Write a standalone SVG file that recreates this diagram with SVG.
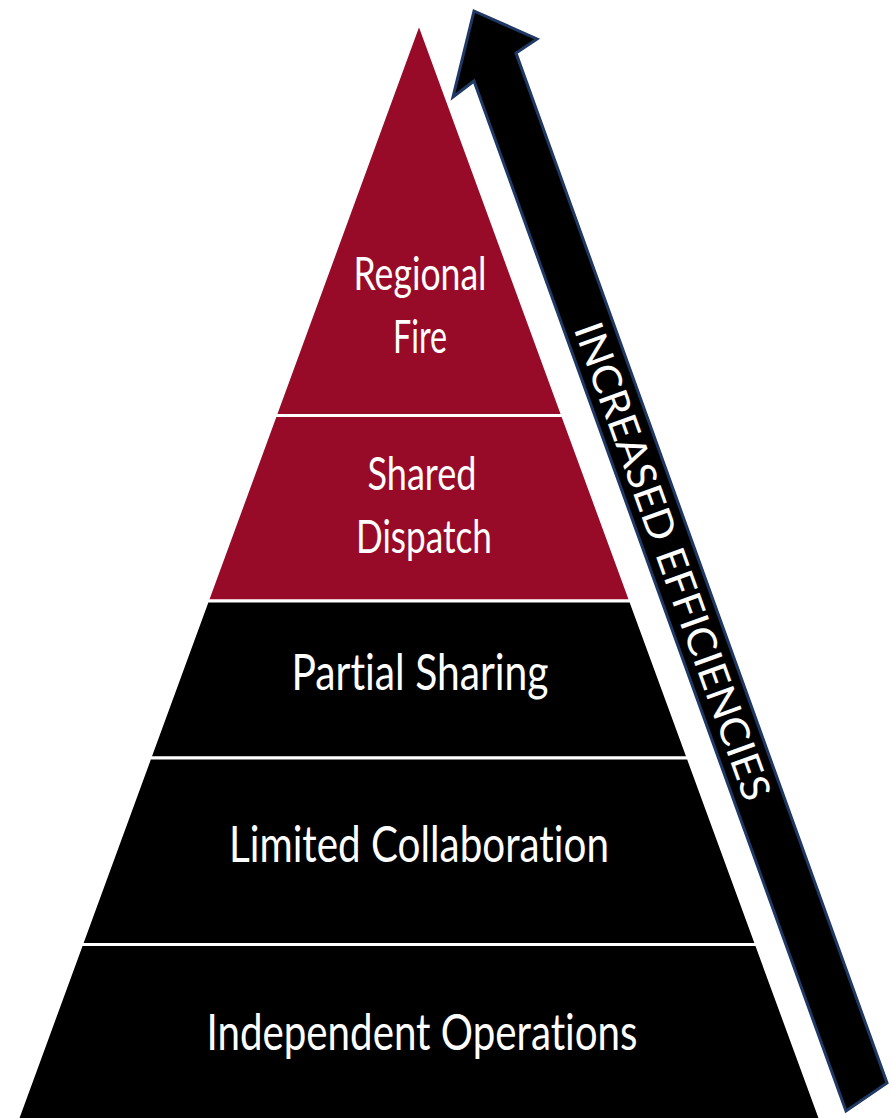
<svg xmlns="http://www.w3.org/2000/svg" width="892" height="1118" viewBox="0 0 892 1118">
<style>
.band{stroke:#ffffff;stroke-width:3;stroke-linejoin:miter}
.red{fill:#970B29}
.blk{fill:#000000}
.lbl{font-family:Lato,"Open Sans","Liberation Sans",sans-serif;fill:#ffffff;text-anchor:middle;font-variant-ligatures:none;font-feature-settings:"liga" 0,"clig" 0}
.s1{font-size:46px}
.s2{font-size:51px}
</style>
<rect width="892" height="1118" fill="#ffffff"/>
<g id="arrow">
<polygon points="474,11 537,39 516,53 887,1083 846,1111 474,81 453,97" fill="#000000" stroke="#1F3864" stroke-width="3" stroke-linejoin="miter"/>
<text class="lbl" x="673.5" y="561" dominant-baseline="central" font-size="40" textLength="505" lengthAdjust="spacingAndGlyphs" transform="rotate(70.1 673.5 561)">INCREASED EFFICIENCIES</text>
</g>
<g id="band-regional-fire">
<polygon class="band red" points="419,23 562.7,415.5 275.3,415.5"/>
<text class="lbl s1" x="420" y="290" textLength="133" lengthAdjust="spacingAndGlyphs">Regional</text>
<text class="lbl s1" x="420" y="353" textLength="54" lengthAdjust="spacingAndGlyphs">Fire</text>
</g>
<g id="band-shared-dispatch">
<polygon class="band red" points="275.3,415.5 562.7,415.5 630.7,601 207.3,601"/>
<text class="lbl s1" x="422" y="490" textLength="109" lengthAdjust="spacingAndGlyphs">Shared</text>
<text class="lbl s1" x="424" y="553" textLength="136" lengthAdjust="spacingAndGlyphs">Dispatch</text>
</g>
<g id="band-partial-sharing">
<polygon class="band blk" points="207.3,601 630.7,601 688.2,758 149.8,758"/>
<text class="lbl s2" x="420" y="690" textLength="257" lengthAdjust="spacingAndGlyphs">Partial Sharing</text>
</g>
<g id="band-limited-collaboration">
<polygon class="band blk" points="149.8,758 688.2,758 756.5,944.5 81.5,944.5"/>
<text class="lbl s2" x="419" y="862" textLength="380" lengthAdjust="spacingAndGlyphs">Limited Collaboration</text>
</g>
<g id="band-independent-operations">
<polygon class="band blk" points="81.5,944.5 756.5,944.5 822.6,1125 15.4,1125"/>
<text class="lbl s2" x="422" y="1050" textLength="431" lengthAdjust="spacingAndGlyphs">Independent Operations</text>
</g>
</svg>
